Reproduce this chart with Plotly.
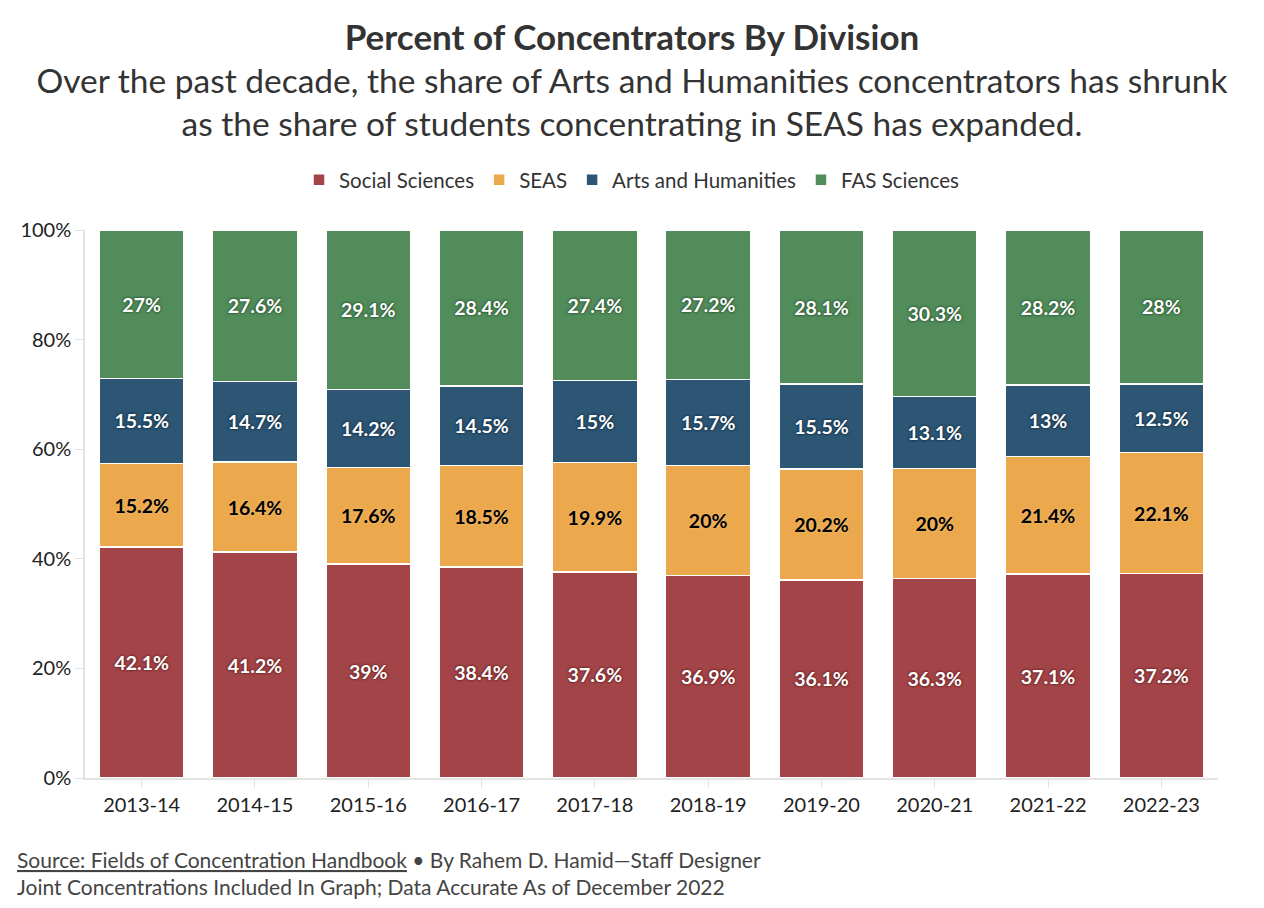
import plotly.graph_objects as go

years = ["2013-14", "2014-15", "2015-16", "2016-17", "2017-18",
         "2018-19", "2019-20", "2020-21", "2021-22", "2022-23"]
social = [42.1, 41.2, 39, 38.4, 37.6, 36.9, 36.1, 36.3, 37.1, 37.2]
seas = [15.2, 16.4, 17.6, 18.5, 19.9, 20, 20.2, 20, 21.4, 22.1]
arts = [15.5, 14.7, 14.2, 14.5, 15, 15.7, 15.5, 13.1, 13, 12.5]
fas = [27, 27.6, 29.1, 28.4, 27.4, 27.2, 28.1, 30.3, 28.2, 28]
yticks = [0, 20, 40, 60, 80, 100]

series = [
    ("Social Sciences", social, "#a34548", "white", "0px 0px 3px #5e1a1d, 0px 0px 2px #6e2225"),
    ("SEAS", seas, "#eba84c", "black", "0px 0px 3px #f4c27c"),
    ("Arts and Humanities", arts, "#2d5674", "white", "0px 0px 3px #0f2a40, 0px 0px 2px #15324a"),
    ("FAS Sciences", fas, "#528c5b", "white", "0px 0px 3px #234d2a, 0px 0px 2px #2c5a33"),
]

FONT = "Lato"
W, H = 1248, 892

fig = go.Figure()
for name, vals, color, tcolor, shadow in series:
    fig.add_trace(go.Bar(
        name=name, x=years, y=vals,
        marker=dict(color=color, line=dict(color="white", width=1.5)),
        text=[f"{v:g}%" for v in vals],
        textposition="inside", insidetextanchor="middle",
        textangle=0,
        textfont=dict(family=FONT, size=19.5, color=tcolor, weight=700, shadow=shadow),
        hoverinfo="skip",
    ))

fig.update_layout(
    barmode="stack", barnorm="percent", bargap=0.25,
    width=W, height=H,
    paper_bgcolor="white", plot_bgcolor="white",
    margin=dict(l=77, r=38, t=222, b=122),
    font=dict(family=FONT, color="#222"),
    title=dict(
        text="<b><span style='font-size:35px'>Percent of Concentrators By Division</span></b><br><span style='font-size:33.5px'>Over the past decade, the share of Arts and Humanities concentrators has shrunk<br>as the share of students concentrating in SEAS has expanded.</span>",
        x=0.5, xanchor="center", xref="container",
        yref="container", y=1 - 42 / H, yanchor="top",
        font=dict(family=FONT, size=33, color="#333"),
    ),
    legend=dict(
        orientation="h", xref="container", x=0.5, xanchor="center",
        yref="container", y=1 - 172 / H, yanchor="middle",
        font=dict(family=FONT, size=20.5, color="#333"),
        traceorder="normal", itemwidth=30,
    ),
    showlegend=True,
)

fig.update_xaxes(
    showline=True, linecolor="#e3e3e3", linewidth=1.5,
    ticks="outside", ticklen=8, tickcolor="#e3e3e3",
    tickfont=dict(family=FONT, size=20, color="#222"),
    showgrid=False,
)
fig.update_yaxes(
    range=[0, 100], tickmode="array", tickvals=yticks,
    ticktext=[f"{t}%" for t in yticks],
    showline=True, linecolor="#e3e3e3", linewidth=1.5,
    ticks="outside", ticklen=8, tickcolor="#e3e3e3",
    tickfont=dict(family=FONT, size=20, color="#222"),
    showgrid=False, zeroline=False,
)

plot_w = W - 77 - 38
plot_h = H - 222 - 122
fig.add_annotation(
    xref="paper", yref="paper", x=(7 - 77) / plot_w, y=-(837 - (H - 122)) / plot_h,
    xanchor="left", yanchor="top",
    align="left", showarrow=False,
    text="<u>Source: Fields of Concentration Handbook</u> • By Rahem D. Hamid—Staff Designer<br>Joint Concentrations Included In Graph; Data Accurate As of December 2022",
    font=dict(family=FONT, size=21, color="#444"),
)

fig.write_html("out.html")
